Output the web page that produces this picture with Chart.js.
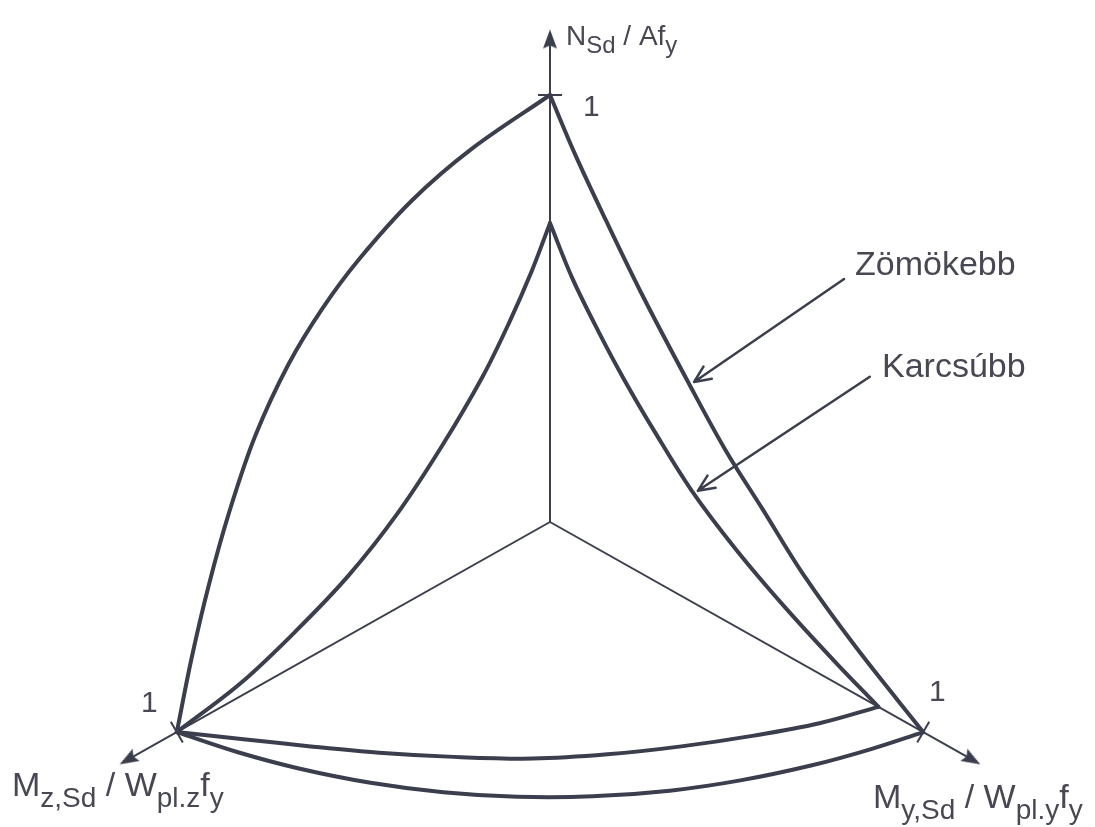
<!DOCTYPE html>
<html>
<head>
<meta charset="utf-8">
<script src="https://cdn.jsdelivr.net/npm/chart.js@4.4.1/dist/chart.umd.min.js"></script>
<style>
  html, body { margin: 0; padding: 0; background: #fff; }
  #wrap { width: 1095px; height: 827px; position: relative; }
</style>
</head>
<body>
<div id="wrap"><canvas id="interaction"></canvas></div>
<script>
// Relative resistances: N = N_Sd/Af_y, My = M_y,Sd/W_pl.y f_y, Mz = M_z,Sd/W_pl.z f_y

// Zömökebb (stocky member) – N–Mz plane
const zomNzN  = [1.00, 0.977, 0.935, 0.868, 0.80, 0.715, 0.59, 0.445, 0.30, 0.155, 0.00];
const zomNzMz = [0.00, 0.21, 0.37, 0.51, 0.61, 0.70, 0.79, 0.86, 0.915, 0.96, 1.00];
// Zömökebb – N–My plane
const zomNyN  = [1.00, 0.89, 0.78, 0.65, 0.51, 0.40, 0.31, 0.21, 0.11, 0.00];
const zomNyMy = [0.00, 0.07, 0.15, 0.25, 0.37, 0.47, 0.57, 0.68, 0.82, 1.00];
// Zömökebb – My–Mz plane
const zomYzMy = [0.00, 0.13, 0.25, 0.38, 0.50, 0.61, 0.71, 0.80, 0.87, 0.93, 0.97, 1.00];
const zomYzMz = [1.00, 0.966, 0.923, 0.861, 0.786, 0.698, 0.596, 0.479, 0.36, 0.228, 0.112, 0.00];

// Karcsúbb (slender member)
const karNzN  = [0.70, 0.61, 0.52, 0.43, 0.32, 0.22, 0.14, 0.08, 0.03, 0.00];
const karNzMz = [0.00, 0.05, 0.11, 0.18, 0.29, 0.41, 0.54, 0.68, 0.83, 1.00];
const karNyN  = [0.70, 0.60, 0.51, 0.43, 0.35, 0.26, 0.18, 0.11, 0.05, 0.00];
const karNyMy = [0.00, 0.06, 0.13, 0.20, 0.28, 0.38, 0.50, 0.63, 0.76, 0.88];
const karYzMy = [0.00, 0.11, 0.21, 0.32, 0.43, 0.54, 0.63, 0.71, 0.78, 0.84, 0.88];
const karYzMz = [1.00, 0.925, 0.857, 0.778, 0.688, 0.586, 0.476, 0.358, 0.238, 0.118, 0.00];

// axes: N up, My to the lower right, Mz to the lower left
const axisKeys   = ["N", "My", "Mz"];
const unitLabels = ["1", "1", "1"];
const AXIS_END = 1.13;

// ---- layout / style ----
const W = 1095, H = 827;
const ORIGIN = { x: 550, y: 522 };
const UNIT = 427;               // px for one unit along N
const SKEW_X = 0.874, SKEW_Y = 0.492;
const INK = "#3b3e4c";
const TEXT = "#474853";
const FONT = '"Liberation Sans", Arial, sans-serif';

function project(n, my, mz) {
  return { x: SKEW_X * (my - mz), y: n - SKEW_Y * (my + mz) };
}
function axisPoint(key, v) {
  return project(key === "N" ? v : 0, key === "My" ? v : 0, key === "Mz" ? v : 0);
}

function curve(nArr, myArr, mzArr, len) {
  const pts = [];
  for (let i = 0; i < len; i++) {
    pts.push(project(nArr ? nArr[i] : 0, myArr ? myArr[i] : 0, mzArr ? mzArr[i] : 0));
  }
  return pts;
}

// slim arrow head used as point style (tip points up before rotation)
function arrowHead() {
  const c = document.createElement("canvas");
  c.width = 14;
  c.height = 20;
  const g = c.getContext("2d");
  g.fillStyle = INK;
  g.beginPath();
  g.moveTo(7, 0);
  g.lineTo(14, 19);
  g.lineTo(7, 16);
  g.lineTo(0, 19);
  g.closePath();
  g.fill();
  return c;
}

const curves = [
  curve(zomNzN, null, zomNzMz, zomNzN.length),
  curve(zomNyN, zomNyMy, null, zomNyN.length),
  curve(null, zomYzMy, zomYzMz, zomYzMy.length),
  curve(karNzN, null, karNzMz, karNzN.length),
  curve(karNyN, karNyMy, null, karNyN.length),
  curve(null, karYzMy, karYzMz, karYzMy.length),
];

const datasets = [];

axisKeys.forEach((k) => {
  datasets.push({
    data: [project(0, 0, 0), axisPoint(k, AXIS_END)],
    showLine: true,
    borderColor: INK,
    borderWidth: 2,
    pointRadius: 0,
  });
});

// arrow heads at the far end of each axis
datasets.push({
  data: axisKeys.map((k) => axisPoint(k, AXIS_END)),
  showLine: false,
  pointStyle: arrowHead(),
  pointRotation: [0, 120, 240],
});

// small cross ticks at value 1
datasets.push({
  data: axisKeys.map((k) => axisPoint(k, 1)),
  showLine: false,
  pointStyle: "line",
  pointRotation: [0, 120, 60],
  pointRadius: 12,
  borderColor: INK,
  borderWidth: 2,
});

curves.forEach((pts) => {
  datasets.push({
    data: pts,
    showLine: true,
    tension: 0.35,
    borderColor: INK,
    borderWidth: 4,
    pointRadius: 0,
    borderCapStyle: "round",
    borderJoinStyle: "round",
  });
});

// pointer labels, each aimed at a point of a curve
const pointers = [
  { text: "Zömökebb", curve: 1, index: 4, dx: 150, dy: -103, tx: 855, ty: 275 },
  { text: "Karcsúbb", curve: 4, index: 5, dx: 172, dy: -114, tx: 882, ty: 377 },
];

function drawRich(ctx, parts, x, y, size, subSize, drop) {
  parts.forEach(([t, sub]) => {
    ctx.font = `${sub ? subSize : size}px ${FONT}`;
    ctx.fillText(t, x, y + (sub ? drop : 0));
    x += ctx.measureText(t).width;
  });
}

const labelsPlugin = {
  id: "labels",
  afterDatasetsDraw(chart) {
    const { ctx } = chart;
    const sx = chart.scales.x, sy = chart.scales.y;
    ctx.save();

    // pointer arrows
    ctx.strokeStyle = INK;
    ctx.lineWidth = 2.5;
    ctx.lineCap = "round";
    pointers.forEach((p) => {
      const pt = curves[p.curve][p.index];
      const tipX = sx.getPixelForValue(pt.x) + 6;
      const tipY = sy.getPixelForValue(pt.y);
      const ang = Math.atan2(p.dy, p.dx);
      ctx.beginPath();
      ctx.moveTo(tipX + p.dx, tipY + p.dy);
      ctx.lineTo(tipX, tipY);
      [-0.42, 0.42].forEach((a) => {
        ctx.moveTo(tipX, tipY);
        ctx.lineTo(tipX + 18 * Math.cos(ang + a), tipY + 18 * Math.sin(ang + a));
      });
      ctx.stroke();
    });

    ctx.fillStyle = TEXT;
    ctx.textBaseline = "alphabetic";
    ctx.font = `34px ${FONT}`;
    pointers.forEach((p) => ctx.fillText(p.text, p.tx, p.ty));

    // axis titles
    drawRich(ctx, [["N"], ["Sd", 1], [" / Af"], ["y", 1]], 566, 45, 28, 24, 8);
    drawRich(ctx, [["M"], ["z,Sd", 1], [" / W"], ["pl.z", 1], ["f"], ["y", 1]], 12, 796, 34, 28, 11);
    drawRich(ctx, [["M"], ["y,Sd", 1], [" / W"], ["pl.y", 1], ["f"], ["y", 1]], 873, 808, 34, 28, 11);

    // unit values
    ctx.font = `30px ${FONT}`;
    ctx.fillText(unitLabels[0], 583, 116);
    ctx.fillText(unitLabels[1], 929, 701);
    ctx.fillText(unitLabels[2], 141, 712);

    ctx.restore();
  },
};

new Chart(document.getElementById("interaction"), {
  type: "scatter",
  data: { datasets },
  options: {
    responsive: true,
    maintainAspectRatio: false,
    animation: false,
    layout: { padding: 0, autoPadding: false },
    plugins: { legend: { display: false }, tooltip: { enabled: false } },
    scales: {
      x: { display: false, min: -ORIGIN.x / UNIT, max: (W - ORIGIN.x) / UNIT },
      y: { display: false, min: -(H - ORIGIN.y) / UNIT, max: ORIGIN.y / UNIT },
    },
  },
  plugins: [labelsPlugin],
});
</script>
</body>
</html>
